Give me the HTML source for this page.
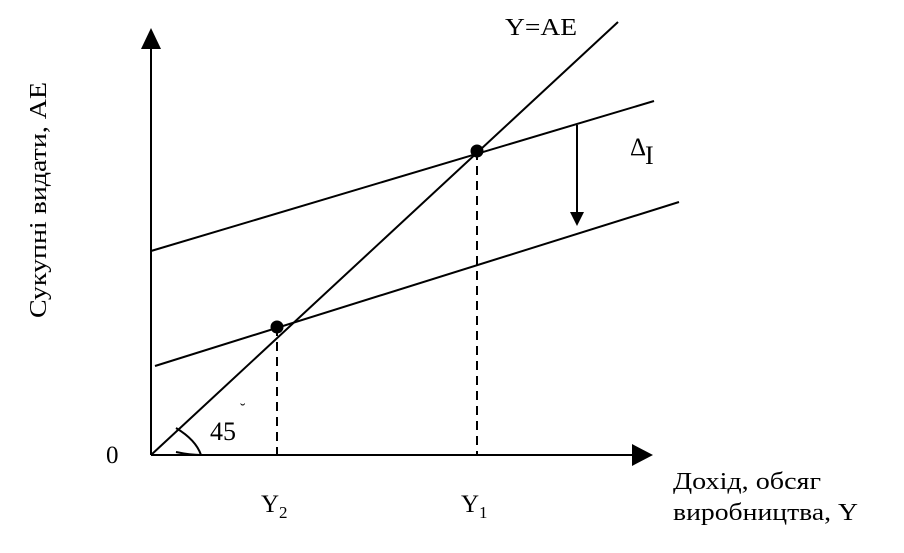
<!DOCTYPE html>
<html><head><meta charset="utf-8"><style>
html,body{margin:0;padding:0;background:#fff;}
svg{display:block;}
text{font-family:"Liberation Serif","DejaVu Serif",serif;fill:#000;}
</style></head><body>
<svg width="904" height="553" viewBox="0 0 904 553" xmlns="http://www.w3.org/2000/svg">
<g stroke="#000" stroke-width="2" fill="none">
<line x1="151" y1="455" x2="151" y2="46"/>
<line x1="151" y1="455" x2="634" y2="455"/>
<line x1="151" y1="455" x2="618" y2="22"/>
<line x1="151" y1="251" x2="654" y2="101"/>
<line x1="155" y1="366" x2="679" y2="202"/>
<line x1="577" y1="125" x2="577" y2="214"/>
<line x1="277" y1="327" x2="277" y2="455" stroke-dasharray="9,6"/>
<line x1="477" y1="151" x2="477" y2="455" stroke-dasharray="9,6"/>
<path d="M176,428 Q196,440 201,455 Q190,455 176,452"/>
</g>
<polygon points="151,28 141,49 161,49" fill="#000"/>
<polygon points="653,455 632,444 632,466" fill="#000"/>
<polygon points="577,226 570,212 584,212" fill="#000"/>
<circle cx="477" cy="151" r="6.5" fill="#000"/>
<circle cx="277" cy="327" r="6.5" fill="#000"/>
<text x="505" y="35" font-size="24" textLength="72" lengthAdjust="spacingAndGlyphs">Y=AE</text>
<text x="630" y="155" font-size="25">Δ</text>
<text x="645" y="164" font-size="26">I</text>
<text x="106" y="463" font-size="25">0</text>
<text x="210" y="440" font-size="26">45</text>
<text x="240" y="414" font-size="16">˘</text>
<text x="261" y="512" font-size="25">Y</text>
<text x="279" y="518" font-size="17">2</text>
<text x="461" y="512" font-size="25">Y</text>
<text x="479" y="518" font-size="17">1</text>
<text x="673" y="489" font-size="24" textLength="148" lengthAdjust="spacingAndGlyphs">Дохід, обсяг</text>
<text x="673" y="520" font-size="24" textLength="185" lengthAdjust="spacingAndGlyphs">виробництва, Y</text>
<text transform="translate(46,318) rotate(-90)" font-size="24" textLength="236" lengthAdjust="spacingAndGlyphs">Сукупні видати, АЕ</text>
</svg>
</body></html>
